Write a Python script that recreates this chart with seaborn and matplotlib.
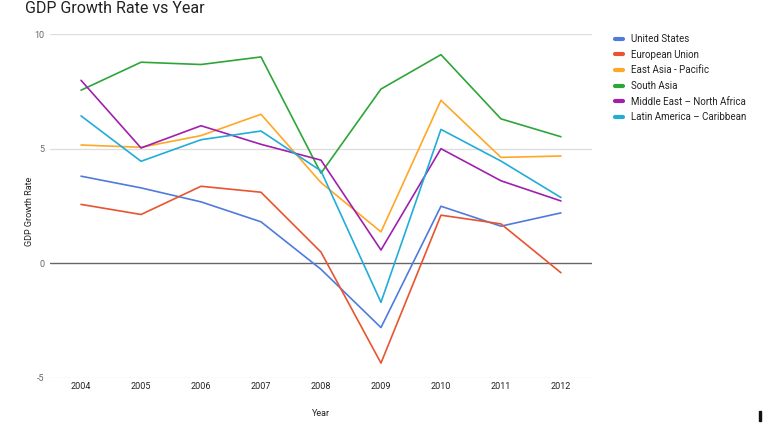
import numpy as np
import pandas as pd
import matplotlib
matplotlib.use("Agg")
import matplotlib.pyplot as plt
import seaborn as sns

years = [2004, 2005, 2006, 2007, 2008, 2009, 2010, 2011, 2012]
regions = ["United States", "European Union", "East Asia - Pacific",
           "South Asia", "Middle East \u2013 North Africa", "Latin America \u2013 Caribbean"]

us = [3.8, 3.29, 2.68, 1.81, -0.26, -2.8, 2.49, 1.62, 2.2]
eu = [2.57, 2.13, 3.36, 3.1, 0.49, -4.35, 2.1, 1.72, -0.41]
eap = [5.16, 5.06, 5.57, 6.5, 3.52, 1.37, 7.11, 4.62, 4.68]
south_asia = [7.55, 8.77, 8.67, 9.0, 3.93, 7.6, 9.1, 6.3, 5.52]
mena = [7.98, 5.03, 6.0, 5.19, 4.5, 0.58, 5.0, 3.6, 2.72]
lac = [6.43, 4.45, 5.39, 5.77, 4.03, -1.7, 5.84, 4.46, 2.87]

colors = ["#4f7bdc", "#e8542f", "#ffa726", "#2ea538", "#a020ad", "#22acd8"]

series = [us, eu, eap, south_asia, mena, lac]
df = pd.DataFrame({
    "Year": np.tile(years, len(regions)),
    "Rate": np.concatenate(series),
    "Region": np.repeat(regions, len(years)),
})

sns.set_theme(style="white")
plt.rcParams["font.family"] = ["Roboto", "DejaVu Sans"]

fig = plt.figure(figsize=(7.67, 4.23), dpi=100)
ax = fig.add_axes([0.065, 0.1064, 0.707, 0.8132])

# gridlines + darker zero line
ax.axhline(10, color="#dddddd", lw=0.9, zorder=0)
ax.axhline(5, color="#dddddd", lw=0.9, zorder=0)
ax.axhline(-5, color="#dddddd", lw=0.9, zorder=0)
ax.axhline(0, color="#666666", lw=1.0, zorder=1)

sns.lineplot(data=df, x="Year", y="Rate", hue="Region",
             palette=dict(zip(regions, colors)), lw=1.2, ax=ax, legend=False, zorder=3)

ax.set_xlim(2003.48, 2012.52)
ax.set_ylim(-5, 10)
ax.set_xticks(years)
ax.set_xticklabels([str(y) for y in years])
ax.set_yticks([-5, 0, 5, 10])
ax.set_yticklabels(["-5", "0", "5", "10"])
ax.tick_params(axis="y", labelsize=6.5, labelcolor="#666666", length=0, pad=4)
ax.tick_params(axis="x", labelsize=6.5, labelcolor="#222222", length=0, pad=3)
for s in ax.spines.values():
    s.set_visible(False)

ax.set_xlabel("Year", fontsize=6.5, color="#222222", labelpad=13)
ax.set_ylabel("GDP Growth Rate", fontsize=6.5, color="#222222")
ax.yaxis.set_label_coords(-0.0295, 0.483)

fig.text(0.033, 0.979, "GDP Growth Rate vs Year", fontsize=11.5,
         color="#222222", va="center", ha="left")

handles = [plt.Line2D([], [], color=c, lw=3) for c in colors]
fig.legend(handles, regions, loc="upper left", bbox_to_anchor=(0.79, 0.9395),
           frameon=False, fontsize=7, handlelength=0.9, handletextpad=0.75,
           labelspacing=0.57, labelcolor="#222222")

fig.patches.append(plt.Rectangle((0.989, 0.005), 0.003, 0.024, transform=fig.transFigure,
                                 color="#111111", figure=fig))

fig.savefig("out.png", dpi=100)
